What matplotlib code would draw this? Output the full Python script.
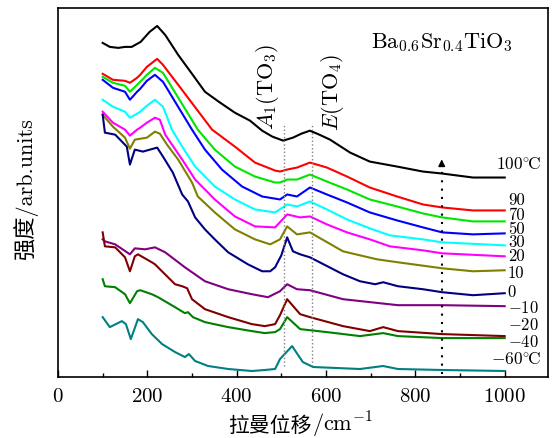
import numpy as np
import matplotlib.pyplot as plt
from matplotlib.ticker import MultipleLocator

plt.rcParams['font.family'] = ['cmr10', 'Noto Sans CJK SC']
plt.rcParams['mathtext.fontset'] = 'cm'
plt.rcParams['axes.formatter.use_mathtext'] = True

# Raman spectra (arb. units)
x_100 = [100, 116, 135, 150, 165, 185, 205, 222, 240, 269, 300, 329, 360, 396, 430, 457, 480, 504, 526, 545, 564, 585, 609, 654, 698, 759, 817, 860, 929, 1000]
y_100 = [335, 331, 330, 331, 331, 336, 346, 352, 343, 323, 304, 286, 276, 265, 257, 247, 241, 237, 240, 244, 247, 243, 238, 225, 216, 211, 206, 204, 200, 200]

x_90 = [100, 123, 150, 161, 177, 184, 199, 222, 235, 269, 345, 396, 441, 486, 497, 513, 535, 564, 602, 647, 698, 759, 817, 860, 929, 1000]
y_90 = [304, 298, 297, 295, 300, 303, 311, 319, 313, 293, 248, 231, 215, 207, 206, 208, 210, 215, 210, 201, 190, 181, 173, 170, 167, 167]

x_70 = [100, 123, 150, 161, 177, 184, 199, 217, 235, 313, 351, 396, 441, 486, 497, 513, 535, 564, 602, 647, 698, 759, 817, 860, 929, 1000]
y_70 = [301, 295, 292, 286, 293, 296, 303, 310, 305, 248, 228, 211, 201, 195, 195, 198, 198, 203, 196, 188, 178, 171, 164, 160, 156, 156]

x_50 = [100, 123, 150, 161, 177, 184, 199, 217, 235, 300, 329, 367, 412, 457, 497, 513, 535, 564, 602, 647, 698, 759, 817, 860, 929, 1000]
y_50 = [298, 290, 286, 278, 286, 289, 297, 303, 296, 248, 228, 208, 191, 181, 178, 183, 181, 190, 183, 175, 165, 157, 150, 145, 143, 144]

x_30 = [100, 123, 150, 161, 177, 184, 199, 217, 235, 255, 278, 307, 351, 396, 441, 486, 513, 535, 564, 602, 647, 698, 743, 817, 860, 1000]
y_30 = [278, 271, 266, 260, 264, 266, 272, 278, 271, 248, 231, 211, 191, 178, 168, 165, 173, 171, 176, 168, 158, 149, 142, 138, 135, 132]

x_20 = [100, 123, 150, 161, 177, 184, 199, 217, 228, 240, 278, 307, 351, 396, 441, 486, 513, 542, 564, 602, 647, 698, 743, 817, 860, 1000]
y_20 = [266, 255, 248, 242, 248, 250, 255, 260, 258, 243, 218, 198, 178, 161, 151, 150, 163, 160, 161, 153, 145, 138, 131, 127, 124, 121]

x_10 = [100, 123, 150, 161, 172, 199, 217, 228, 244, 269, 300, 313, 351, 396, 441, 475, 497, 513, 535, 564, 638, 714, 761, 860, 929, 1000]
y_10 = [263, 251, 240, 229, 238, 240, 246, 244, 233, 218, 195, 181, 165, 148, 138, 133, 138, 151, 143, 145, 126, 118, 115, 109, 106, 107]

x_0 = [100, 105, 128, 154, 161, 172, 190, 222, 235, 257, 278, 291, 307, 329, 351, 381, 425, 457, 475, 486, 500, 513, 526, 542, 564, 638, 676, 710, 728, 761, 817, 860, 929, 1000]
y_0 = [263, 245, 243, 231, 213, 228, 226, 230, 221, 205, 183, 176, 160, 148, 138, 125, 113, 106, 106, 110, 122, 140, 126, 123, 120, 103, 96, 93, 95, 91, 88, 85, 82, 84]

x_m10 = [100, 105, 128, 161, 172, 195, 217, 240, 284, 329, 381, 434, 470, 497, 513, 535, 564, 638, 761, 860, 1000]
y_m10 = [138, 136, 133, 123, 129, 128, 130, 125, 110, 96, 88, 83, 80, 86, 93, 88, 87, 78, 72, 72, 71]

x_m20 = [100, 105, 128, 150, 161, 172, 179, 210, 217, 262, 278, 289, 300, 329, 381, 434, 463, 486, 497, 513, 542, 564, 638, 698, 728, 761, 860, 1000]
y_m20 = [145, 131, 130, 120, 106, 121, 123, 115, 113, 93, 91, 89, 78, 68, 60, 53, 51, 53, 62, 78, 63, 60, 51, 46, 50, 46, 43, 41]

x_m40 = [100, 105, 128, 150, 161, 177, 184, 210, 224, 262, 284, 291, 302, 329, 381, 434, 463, 486, 497, 513, 542, 602, 676, 728, 761, 860, 1000]
y_m40 = [98, 91, 90, 83, 74, 86, 87, 83, 80, 70, 64, 65, 60, 55, 50, 46, 44, 45, 48, 60, 48, 45, 41, 44, 41, 39, 39]

x_m60 = [100, 116, 143, 152, 163, 179, 190, 210, 233, 262, 284, 293, 307, 336, 381, 434, 463, 486, 497, 524, 548, 571, 676, 728, 761, 860, 1000]
y_m60 = [60, 50, 56, 53, 38, 58, 55, 43, 33, 25, 20, 23, 16, 11, 8, 6, 7, 8, 18, 31, 15, 10, 8, 11, 8, 7, 6]

curves_x = [x_100, x_90, x_70, x_50, x_30, x_20, x_10, x_0, x_m10, x_m20, x_m40, x_m60]
curves_y = [y_100, y_90, y_70, y_50, y_30, y_20, y_10, y_0, y_m10, y_m20, y_m40, y_m60]
labels = ['$100^{\\circ}\\!\\mathrm{C}$', '90', '70', '50', '30', '20', '10', '0',
          '$-10$', '$-20$', '$-40$', '$-60^{\\circ}\\!\\mathrm{C}$']

colors = ['black', '#ff0000', '#00e600', '#0000ff', '#00ffff', '#ff00ff',
          '#808000', '#000080', '#800080', '#800000', '#008000', '#008080']
label_y = [214, 178, 163, 149, 136, 122, 105, 86, 70, 53, 36, 18]

fig = plt.figure(figsize=(5.54, 4.39), dpi=100)
ax = fig.add_axes([0.1047, 0.139, 0.8845, 0.8405])

for xs, ys, c in zip(curves_x, curves_y, colors):
    ax.plot(xs, ys, color=c, lw=1.5)

for i, (lab, ly) in enumerate(zip(labels, label_y)):
    if i == 0 or i == len(labels) - 1:
        ax.text(1081, ly, lab, ha='right', va='center', fontsize=12.5)
    else:
        ax.text(1007, ly, lab, ha='left', va='center', fontsize=12)

# mode positions
ax.plot([507, 507], [11, 255], color='gray', ls=':', lw=1.0)
ax.plot([568, 568], [11, 254], color='gray', ls=':', lw=1.0)

# temperature arrow
ax.plot([859, 859], [3, 212], color='k', ls=(0, (1, 3)), lw=1.5)
ax.annotate('', xy=(859, 221), xytext=(859, 209),
            arrowprops=dict(arrowstyle='-|>', color='k', lw=1.0, mutation_scale=10))

ax.text(470, 292, r'$A_1(\mathrm{TO}_3)$', rotation=90, ha='center', va='center', fontsize=16)
ax.text(615, 286, r'$E(\mathrm{TO}_4)$', rotation=90, ha='center', va='center', fontsize=16)
ax.text(860, 336, r'$\mathrm{Ba}_{0.6}\mathrm{Sr}_{0.4}\mathrm{TiO}_3$', ha='center', va='center', fontsize=16)

ax.set_xlim(0, 1097)
ax.set_ylim(0, 370)
ax.set_yticks([])
ax.xaxis.set_major_locator(MultipleLocator(200))
ax.xaxis.set_minor_locator(MultipleLocator(100))
ax.tick_params(axis='x', which='both', direction='in', labelsize=15, pad=7)
ax.tick_params(axis='x', which='major', length=5, width=1)
ax.tick_params(axis='x', which='minor', length=3, width=1)
for s in ax.spines.values():
    s.set_linewidth(1.2)

ax.text(0.518, -0.145, '拉曼位移', transform=ax.transAxes, ha='right', va='baseline',
        fontsize=15, family='Noto Sans CJK SC')
ax.text(0.518, -0.145, r'$/\mathrm{cm}^{-1}$', transform=ax.transAxes, ha='left', va='baseline',
        fontsize=16)
ax.text(-0.067, 0.515, '强度/arb.units', transform=ax.transAxes, rotation=90,
        ha='center', va='center', fontsize=16)

fig.savefig('out.png', dpi=100)
